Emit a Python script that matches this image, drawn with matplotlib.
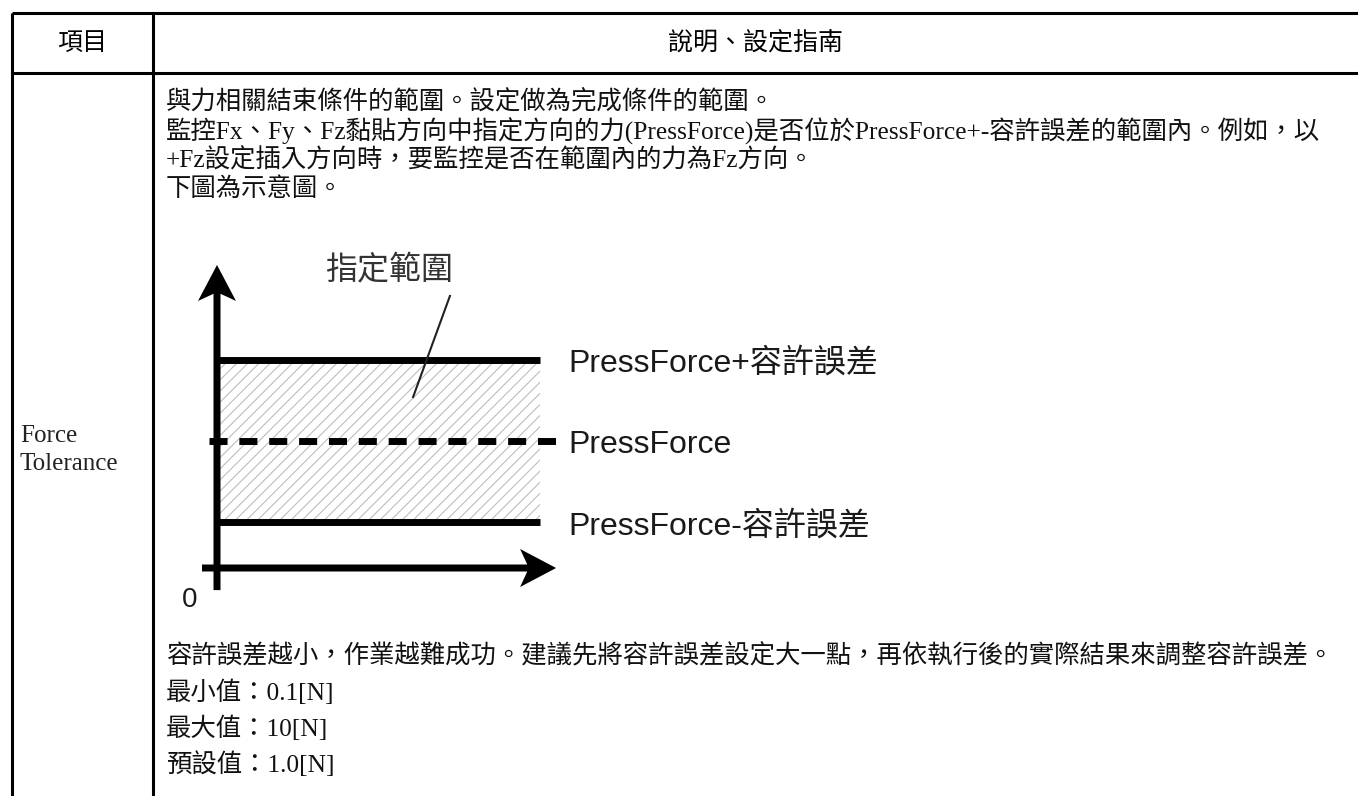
import matplotlib
matplotlib.use("Agg")
import matplotlib.pyplot as plt

W, H = 1358, 796  # 輸出像素

# ---- 表格文字 ----
header = ["項目", "說明、設定指南"]
item_name = "Force\nTolerance"
desc_lines = [
    "與力相關結束條件的範圍。設定做為完成條件的範圍。",
    "監控Fx、Fy、Fz黏貼方向中指定方向的力(PressForce)是否位於PressForce+-容許誤差的範圍內。例如，以",
    "+Fz設定插入方向時，要監控是否在範圍內的力為Fz方向。",
    "下圖為示意圖。",
]
note_lines = [
    "容許誤差越小，作業越難成功。建議先將容許誤差設定大一點，再依執行後的實際結果來調整容許誤差。",
    "最小值：0.1[N]",
    "最大值：10[N]",
    "預設值：1.0[N]",
]

# ---- 示意圖數值 ----
press_force = 5.0
tolerance = 3.2
range_len = 12.7
range_label = "指定範圍"
level_labels = ["PressForce+容許誤差", "PressForce", "PressForce-容許誤差"]
origin_label = "0"

SERIF = ["Liberation Serif", "Noto Sans CJK TC"]
SANS = ["Liberation Sans", "Noto Sans CJK TC"]
CJK = ["Noto Sans CJK TC", "DejaVu Sans"]
plt.rcParams["hatch.linewidth"] = 0.8

fig = plt.figure(figsize=(W / 100, H / 100), dpi=100)
ax = fig.add_axes([0, 0, 1, 1])
ax.set_xlim(0, W)
ax.set_ylim(H, 0)
ax.axis("off")

# 表格框線
top, head_bot = 13, 73
left, divider = 12, 153
ax.hlines([top, head_bot], left, W, colors="black", lw=2.2)
ax.vlines([left, divider], top, H, colors="black", lw=2.2)

ax.text((left + divider) / 2, (top + head_bot) / 2, header[0], ha="center",
        va="center", fontsize=18, family=CJK)
ax.text((divider + W) / 2, (top + head_bot) / 2, header[1], ha="center",
        va="center", fontsize=18, family=CJK)
ax.text(20, 450, item_name, ha="left", va="center",
        fontsize=18, family=SERIF, linespacing=1.3, color="#222222")

for i, line in enumerate(desc_lines):
    ax.text(166, 102 + 29 * i, line, ha="left", va="center", fontsize=18.3,
            family=SERIF, color="#111111")
for i, line in enumerate(note_lines):
    ax.text(166, 656 + 36 * i, line, ha="left", va="center", fontsize=18.3,
            family=SERIF, color="#111111")

# ---- 示意圖 (inset, 每單位 s 像素) ----
s = 25.4
ox, oy = 217, 568
bx0, bx1, by0, by1 = 170, 600, 245, 620
dax = fig.add_axes([bx0 / W, 1 - by1 / H, (bx1 - bx0) / W, (by1 - by0) / H])
dax.set_xlim((bx0 - ox) / s, (bx1 - ox) / s)
dax.set_ylim((oy - by1) / s, (oy - by0) / s)
dax.axis("off")

upper = press_force + tolerance
lower = press_force - tolerance

dax.fill_between([0, range_len], lower, upper, facecolor="white",
                 edgecolor="#bdbdbd", hatch="///", linewidth=0, zorder=1)
dax.hlines([upper, lower], 0, range_len, colors="black", lw=5, zorder=3)
dax.plot([-0.31, 13.35], [press_force, press_force], color="black", lw=5,
         linestyle=(0, (2.6, 1.7)), dash_capstyle="butt", zorder=3)

arrow_kw = dict(width=7 / s, head_width=38 / s, head_length=36 / s,
                length_includes_head=True, overhang=0.2, color="black",
                lw=0, zorder=4)
dax.arrow(0, -0.87, 0, 12.8, **arrow_kw)
dax.arrow(-0.59, 0, 13.94, 0, **arrow_kw)

dax.plot([9.17, 7.72], [10.71, 6.73], color="#222222", lw=1.5, zorder=5)
dax.text(6.77, 11.73, range_label, ha="center", va="center", fontsize=23,
         family=CJK, color="#333333")
for lab, y in zip(level_labels, [upper, press_force, lower]):
    dax.text(13.82, y - 0.15, lab, ha="left", va="center", fontsize=23,
             family=SANS, color="#1a1a1a")
dax.text(-1.06, -1.26, origin_label, ha="center", va="center", fontsize=20,
         family=SANS, color="#1a1a1a")

fig.savefig("out.png", dpi=100)
